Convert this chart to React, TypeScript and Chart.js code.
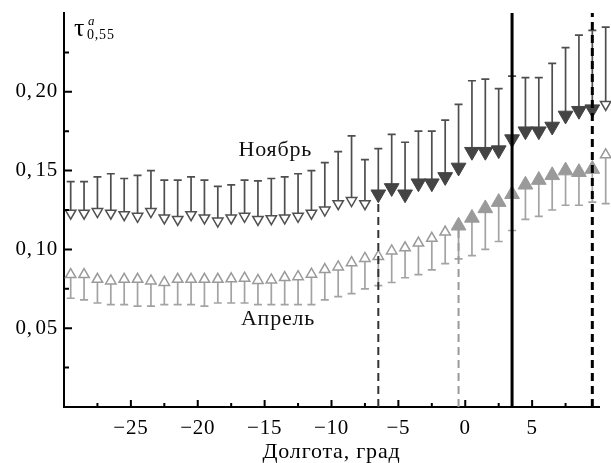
import React, { useEffect, useRef } from 'react';
import { Chart, registerables } from 'chart.js';

Chart.register(...registerables);

// Longitude (deg) of each averaged point
const longitudes = [
  -29.5, -28.5, -27.5, -26.5, -25.5, -24.5, -23.5, -22.5, -21.5, -20.5,
  -19.5, -18.5, -17.5, -16.5, -15.5, -14.5, -13.5, -12.5, -11.5, -10.5,
  -9.5, -8.5, -7.5, -6.5, -5.5, -4.5, -3.5, -2.5, -1.5, -0.5,
  0.5, 1.5, 2.5, 3.5, 4.5, 5.5, 6.5, 7.5, 8.5, 9.5, 10.5,
];

// November AOT and upper error-bar ends
const novValues = [
  0.123, 0.123, 0.124, 0.123, 0.122, 0.121, 0.124, 0.120, 0.119, 0.122,
  0.120, 0.118, 0.120, 0.121, 0.119, 0.1195, 0.120, 0.121, 0.123, 0.125,
  0.129, 0.131, 0.129, 0.135, 0.139, 0.135, 0.142, 0.142, 0.146, 0.152,
  0.162, 0.162, 0.163, 0.170, 0.175, 0.175, 0.178, 0.185, 0.188, 0.189, 0.192,
];
const novUpper = [
  0.143, 0.143, 0.146, 0.148, 0.145, 0.147, 0.150, 0.144, 0.144, 0.146,
  0.144, 0.140, 0.141, 0.144, 0.1435, 0.145, 0.146, 0.148, 0.150, 0.155,
  0.162, 0.172, 0.157, 0.164, 0.173, 0.168, 0.175, 0.175, 0.182, 0.192,
  0.207, 0.208, 0.202, 0.210, 0.209, 0.209, 0.218, 0.228, 0.236, 0.239, 0.241,
];

// April AOT and lower error-bar ends
const aprValues = [
  0.084, 0.084, 0.081, 0.080, 0.081, 0.081, 0.080, 0.079, 0.081, 0.081,
  0.081, 0.081, 0.0813, 0.0817, 0.0803, 0.0806, 0.0821, 0.0827, 0.0843, 0.0872,
  0.0889, 0.0916, 0.0943, 0.0955, 0.099, 0.101, 0.104, 0.107, 0.111, 0.115,
  0.120, 0.126, 0.130, 0.135, 0.141, 0.144, 0.147, 0.150, 0.149, 0.151, 0.160,
];
const aprLower = [
  0.069, 0.068, 0.066, 0.065, 0.065, 0.064, 0.064, 0.065, 0.065, 0.065,
  0.064, 0.066, 0.066, 0.066, 0.065, 0.065, 0.065, 0.065, 0.065, 0.068,
  0.070, 0.072, 0.075, 0.077, 0.079, 0.082, 0.084, 0.087, 0.091, 0.094,
  0.096, 0.100, 0.105, 0.112, 0.119, 0.121, 0.125, 0.128, 0.128, 0.130, 0.129,
];

// Longitude ranges where the markers are filled
const novFilledRange = [-6.5, 9.5];
const aprFilledRange = [-0.5, 9.5];

// Vertical reference lines (longitude)
const refLines = [-6.5, -0.5, 3.5, 9.5];

// Axis ticks
const xMajorTicks = [-25, -20, -15, -10, -5, 0, 5];
const xMinorTicks = [-27.5, -22.5, -17.5, -12.5, -7.5, -2.5, 2.5, 7.5];
const yMajorTicks = [0.05, 0.1, 0.15, 0.2];
const yMinorTicks = [0.025, 0.075, 0.125, 0.175, 0.225];

const seriesLabels = { nov: 'Ноябрь', apr: 'Апрель' };
const labelPos = { nov: [-14.2, 0.163], apr: [-14.0, 0.0557] };
const xTitle = 'Долгота, град';

const SERIF = '"Liberation Serif", "DejaVu Serif", serif';

const inRange = (x: number, r: number[]) => x >= r[0] - 1e-6 && x <= r[1] + 1e-6;

const overlayPlugin = {
  id: 'overlay',
  beforeDraw(chart: any) {
    try { chart.ctx.letterSpacing = '0.8px'; } catch (e) { /* ignore */ }
  },
  beforeDatasetsDraw(chart: any) {
    const { ctx } = chart;
    const xs = chart.scales.x;
    const ys = chart.scales.y;
    const drawBars = (vals: number[], ends: number[], color: string) => {
      ctx.save();
      ctx.strokeStyle = color;
      ctx.lineWidth = 1.7;
      for (let i = 0; i < longitudes.length; i++) {
        const px = xs.getPixelForValue(longitudes[i]);
        const p0 = ys.getPixelForValue(vals[i]);
        const p1 = ys.getPixelForValue(ends[i]);
        ctx.beginPath();
        ctx.moveTo(px, p0);
        ctx.lineTo(px, p1);
        ctx.moveTo(px - 4, p1);
        ctx.lineTo(px + 4, p1);
        ctx.stroke();
      }
      ctx.restore();
    };
    drawBars(novValues, novUpper, '#4e4e4e');
    drawBars(aprValues, aprLower, '#a3a3a3');
  },
  afterDatasetsDraw(chart: any) {
    const { ctx, chartArea } = chart;
    const xs = chart.scales.x;
    const ys = chart.scales.y;
    const bottom = chartArea.bottom;
    const top = chartArea.top;

    // vertical reference lines
    const styles = [
      { color: '#333333', width: 2, dash: [8, 5], from: ys.getPixelForValue(novValues[longitudes.indexOf(refLines[0])]) + 8 },
      { color: '#9a9a9a', width: 2, dash: [8, 5], from: ys.getPixelForValue(aprValues[longitudes.indexOf(refLines[1])]) + 4 },
      { color: '#000000', width: 3, dash: [], from: top },
      { color: '#000000', width: 3, dash: [8, 5], from: top },
    ];
    refLines.forEach((lx, i) => {
      const s = styles[i];
      const px = xs.getPixelForValue(lx);
      ctx.save();
      ctx.strokeStyle = s.color;
      ctx.lineWidth = s.width;
      ctx.setLineDash(s.dash);
      ctx.beginPath();
      ctx.moveTo(px, bottom);
      ctx.lineTo(px, s.from);
      ctx.stroke();
      ctx.restore();
    });

    // inward ticks
    ctx.save();
    ctx.strokeStyle = '#000';
    ctx.lineWidth = 2;
    ctx.beginPath();
    xMajorTicks.forEach((v) => {
      const px = xs.getPixelForValue(v);
      ctx.moveTo(px, bottom);
      ctx.lineTo(px, bottom - 7);
    });
    xMinorTicks.forEach((v) => {
      const px = xs.getPixelForValue(v);
      ctx.moveTo(px, bottom);
      ctx.lineTo(px, bottom - 4);
    });
    const left = chartArea.left;
    yMajorTicks.forEach((v) => {
      const py = ys.getPixelForValue(v);
      ctx.moveTo(left, py);
      ctx.lineTo(left + 8, py);
    });
    yMinorTicks.forEach((v) => {
      const py = ys.getPixelForValue(v);
      ctx.moveTo(left, py);
      ctx.lineTo(left + 5, py);
    });
    ctx.stroke();
    ctx.restore();

    // series labels
    ctx.save();
    ctx.fillStyle = '#111';
    ctx.font = `22px ${SERIF}`;
    ctx.textAlign = 'center';
    ctx.textBaseline = 'middle';
    ctx.fillText(seriesLabels.nov, xs.getPixelForValue(labelPos.nov[0]), ys.getPixelForValue(labelPos.nov[1]));
    ctx.fillText(seriesLabels.apr, xs.getPixelForValue(labelPos.apr[0]), ys.getPixelForValue(labelPos.apr[1]));
    ctx.restore();

    // y-axis symbol tau^a_{0,55}
    ctx.save();
    ctx.fillStyle = '#000';
    ctx.textAlign = 'left';
    ctx.textBaseline = 'alphabetic';
    ctx.font = `26px ${SERIF}`;
    ctx.fillText('τ', left + 10, top + 23);
    ctx.font = `italic 13px ${SERIF}`;
    ctx.fillText('a', left + 24, top + 12);
    ctx.font = `14px ${SERIF}`;
    ctx.fillText('0,55', left + 23, top + 26);
    ctx.restore();
  },
};

export default function App() {
  const ref = useRef<HTMLCanvasElement | null>(null);
  useEffect(() => {
    if (!ref.current) return;
    const novFilled = (i: number) => inRange(longitudes[i], novFilledRange);
    const aprFilled = (i: number) => inRange(longitudes[i], aprFilledRange);
    const chart = new Chart(ref.current, {
      type: 'scatter',
      data: {
        datasets: [
          {
            label: seriesLabels.nov,
            data: longitudes.map((x, i) => ({ x, y: novValues[i] })),
            pointStyle: 'triangle',
            pointRotation: 180,
            pointRadius: (c: any) => (novFilled(c.dataIndex) ? 8.5 : 6),
            pointBackgroundColor: (c: any) => (novFilled(c.dataIndex) ? '#444444' : '#ffffff'),
            pointBorderColor: (c: any) => (novFilled(c.dataIndex) ? '#444444' : '#505050'),
            pointBorderWidth: (c: any) => (novFilled(c.dataIndex) ? 1 : 1.5),
            clip: false,
          } as any,
          {
            label: seriesLabels.apr,
            data: longitudes.map((x, i) => ({ x, y: aprValues[i] })),
            pointStyle: 'triangle',
            pointRotation: 0,
            pointRadius: (c: any) => (aprFilled(c.dataIndex) ? 8.5 : 6),
            pointBackgroundColor: (c: any) => (aprFilled(c.dataIndex) ? '#9a9a9a' : '#ffffff'),
            pointBorderColor: '#9a9a9a',
            pointBorderWidth: (c: any) => (aprFilled(c.dataIndex) ? 1 : 1.5),
            clip: false,
          } as any,
        ],
      },
      options: {
        animation: false,
        responsive: false,
        events: [],
        layout: { padding: { left: 0, right: 12, top: 13, bottom: 0 } },
        plugins: { legend: { display: false }, tooltip: { enabled: false } },
        scales: {
          x: {
            type: 'linear',
            min: -30,
            max: 10,
            afterFit: (s: any) => { s.height = 56; s.paddingLeft = 0; s.paddingRight = 0; },
            grid: { display: true, drawOnChartArea: false, drawTicks: false },
            border: { display: true, color: '#000', width: 2 },
            ticks: {
              stepSize: 5,
              padding: 9,
              color: '#000',
              font: { family: SERIF, size: 21 },
              callback: (v: any) => {
                const n = Number(v);
                if (n <= -30 || n >= 10) return '';
                return n < 0 ? '\u2212' + Math.abs(n) : String(n);
              },
            },
            title: {
              display: true,
              text: xTitle,
              color: '#000',
              font: { family: SERIF, size: 22, lineHeight: 1 },
              padding: { top: 0, bottom: 0 },
            },
          },
          y: {
            type: 'linear',
            min: 0,
            max: 0.25,
            afterFit: (s: any) => { s.width = 64; s.paddingTop = 0; s.paddingBottom = 0; },
            grid: { display: true, drawOnChartArea: false, drawTicks: false },
            border: { display: true, color: '#000', width: 2 },
            ticks: {
              stepSize: 0.05,
              padding: 6,
              color: '#000',
              font: { family: SERIF, size: 21 },
              callback: (v: any) => {
                const n = Number(v);
                if (n <= 0.001 || n >= 0.249) return '';
                return n.toFixed(2).replace('.', ',\u200A');
              },
            },
          },
        },
      },
      plugins: [overlayPlugin],
    });
    return () => chart.destroy();
  }, []);
  return (
    <div style={{ position: 'absolute', left: 0, top: 0, width: 611, height: 463, background: '#fff' }}>
      <canvas ref={ref} width={611} height={463} />
    </div>
  );
}
